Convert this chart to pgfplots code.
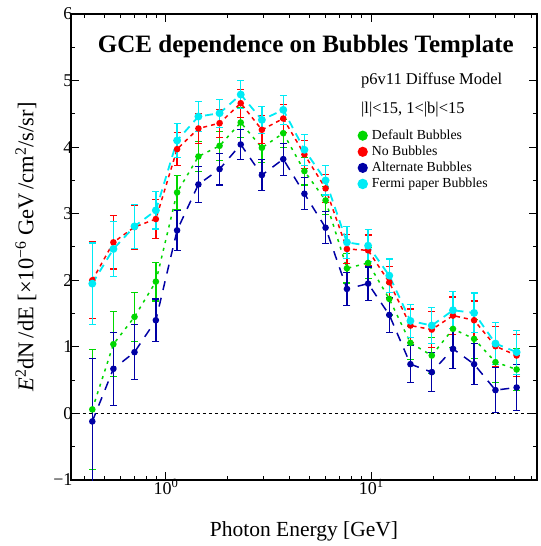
\documentclass[border=0pt]{standalone}
\usepackage{fontspec}
\setmainfont{Liberation Serif}
\usepackage{pgfplots}
\pgfplotsset{compat=1.18}
\usepackage{pgfplotstable}

\definecolor{cgreen}{RGB}{0,215,0}
\definecolor{cred}{RGB}{255,0,0}
\definecolor{cblue}{RGB}{0,0,165}
\definecolor{ccyan}{RGB}{0,235,245}

\pgfplotstableread{
x y e
0.438 0.06 0.90
0.555 1.04 0.49
0.703 1.45 0.37
0.893 1.98 0.29
1.133 3.32 0.26
1.439 3.86 0.23
1.824 4.02 0.22
2.312 4.37 0.22
2.931 3.99 0.22
3.724 4.21 0.21
4.721 3.64 0.21
5.984 3.20 0.21
7.603 2.18 0.22
9.638 2.26 0.23
12.22 1.72 0.24
15.49 1.06 0.25
19.68 0.87 0.27
24.95 1.27 0.28
31.62 1.12 0.29
40.18 0.77 0.30
50.93 0.66 0.31
}\greentab

\pgfplotstableread{
x y e
0.438 2.00 0.58
0.555 2.57 0.40
0.703 2.80 0.33
0.893 2.92 0.29
1.133 3.97 0.25
1.439 4.28 0.22
1.824 4.36 0.21
2.312 4.66 0.21
2.931 4.26 0.21
3.724 4.43 0.21
4.721 3.89 0.21
5.984 3.38 0.21
7.603 2.47 0.22
9.638 2.45 0.23
12.22 1.97 0.24
15.49 1.32 0.25
19.68 1.26 0.27
24.95 1.47 0.28
31.62 1.40 0.29
40.18 1.01 0.30
50.93 0.87 0.32
}\redtab

\pgfplotstableread{
x y e
0.438 -0.12 0.94
0.555 0.67 0.55
0.703 0.92 0.41
0.893 1.40 0.32
1.133 2.75 0.30
1.439 3.44 0.27
1.824 3.67 0.24
2.312 4.04 0.23
2.931 3.58 0.23
3.724 3.82 0.24
4.721 3.30 0.24
5.984 2.79 0.24
7.603 1.87 0.25
9.638 1.95 0.25
12.22 1.48 0.26
15.49 0.74 0.28
19.68 0.62 0.29
24.95 0.97 0.30
31.62 0.74 0.31
40.18 0.35 0.34
50.93 0.39 0.35
}\bluetab

\pgfplotstableread{
x y e
0.438 1.95 0.61
0.555 2.47 0.41
0.703 2.81 0.33
0.893 3.05 0.28
1.133 4.10 0.26
1.439 4.46 0.23
1.824 4.51 0.21
2.312 4.79 0.21
2.931 4.41 0.20
3.724 4.56 0.22
4.721 3.96 0.23
5.984 3.50 0.22
7.603 2.57 0.24
9.638 2.52 0.24
12.22 2.07 0.25
15.49 1.39 0.25
19.68 1.32 0.27
24.95 1.55 0.28
31.62 1.51 0.30
40.18 1.05 0.31
50.93 0.92 0.33
}\cyantab

\begin{document}
\begin{tikzpicture}
\begin{axis}[
  scale only axis,
  width=466pt, height=466pt,
  xmode=log,
  xmin=0.345, xmax=64,
  ymin=-1, ymax=6,
  xtick={1,10},
  xticklabels={10\textsuperscript{0},10\textsuperscript{1}},
  minor xtick={0.4,0.5,0.6,0.7,0.8,0.9,2,3,4,5,6,7,8,9,20,30,40,50,60},
  ytick={-1,0,1,2,3,4,5,6},
  yticklabels={−1,0,1,2,3,4,5,6},
  minor ytick={-0.5,0.5,1.5,2.5,3.5,4.5,5.5},
  tick align=inside,
  major tick length=8pt,
  minor tick length=4pt,
  every tick/.style={black, line width=1pt},
  axis line style={line width=1.3pt},
  tick label style={font=\fontsize{18}{20}\selectfont},
  xticklabel style={yshift=4pt},
  yticklabel style={xshift=5pt},
  xlabel={Photon Energy [GeV]},
  ylabel={\textit{E}\textsuperscript{2}dN\,/dE [×10\textsuperscript{−6} GeV\,/cm\textsuperscript{2}/s/sr]},
  label style={font=\fontsize{21.5}{24}\selectfont},
  xlabel style={yshift=-20pt},
  ylabel style={font=\fontsize{22.5}{25}\selectfont, at={(ticklabel cs:0.5,10pt)}},
  error bars/y dir=both,
  error bars/y explicit,
  error bars/error bar style={line width=1.3pt, solid},
  error bars/error mark options={rotate=90, mark size=3.5pt, line width=1.2pt, solid},
  legend image code/.code={\fill[#1, solid] (0.1cm,0cm) circle (4.3pt);},
  legend style={at={(rel axis cs:0.608,0.760)}, anchor=north west, draw=none, fill=none,
    font=\fontsize{13.8}{16}\selectfont, row sep=1pt,
    nodes={inner xsep=4pt}},
  legend cell align=left,
  clip=true,
]
\addplot[forget plot, black, line width=0.8pt, dash pattern=on 3pt off 3pt] coordinates {(0.345,0) (64,0)};

\addplot[cgreen, line width=1.5pt, dash pattern=on 3pt off 5pt, mark=*, mark size=2.5pt, mark options={solid}]
  table[x=x, y=y, y error=e]{\greentab};
\addlegendentry{Default Bubbles}
\addplot[cred, line width=1.5pt, dash pattern=on 4pt off 4pt, mark=*, mark size=2.5pt, mark options={solid}]
  table[x=x, y=y, y error=e]{\redtab};
\addlegendentry{No Bubbles}
\addplot[cblue, line width=1.5pt, dash pattern=on 9pt off 8pt, mark=*, mark size=2.5pt, mark options={solid}]
  table[x=x, y=y, y error=e]{\bluetab};
\addlegendentry{Alternate Bubbles}
\addplot[ccyan, line width=1.8pt, dash pattern=on 8pt off 6pt, mark=*, mark size=3pt, mark options={solid}]
  table[x=x, y=y, y error=e]{\cyantab};
\addlegendentry{Fermi paper Bubbles}

\node[font=\bfseries\fontsize{25}{28}\selectfont] at (rel axis cs:0.504,0.931) {GCE dependence on Bubbles Template};
\node[anchor=west, font=\fontsize{16.5}{19}\selectfont] at (rel axis cs:0.615,0.858) {p6v11 Diffuse Model};
\node[anchor=west, font=\fontsize{16.5}{19}\selectfont] at (rel axis cs:0.615,0.795) {|l|<15, 1<|b|<15};
\end{axis}
\path (current axis.north west) ++(-71pt,14pt) coordinate (bbtop);
\path (current axis.south east) ++(3pt,-66pt) coordinate (bbbot);
\end{tikzpicture}
\end{document}
